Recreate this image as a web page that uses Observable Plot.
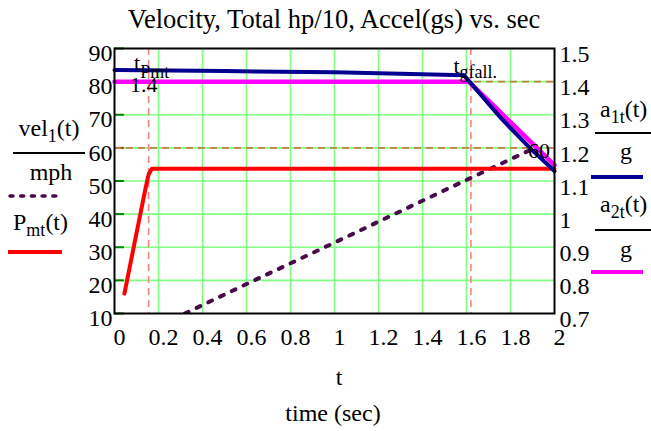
<!DOCTYPE html>
<html>
<head>
<meta charset="utf-8">
<script src="https://cdn.jsdelivr.net/npm/d3@7"></script>
<script src="https://cdn.jsdelivr.net/npm/@observablehq/plot@0.6"></script>
<style>
  html, body { margin: 0; padding: 0; background: #fff; }
  #chart svg { display: block; }
  #chart svg, #chart svg text, #chart svg tspan { font-family: "Liberation Serif", Tinos, "Times New Roman", Times, "DejaVu Serif", serif !important; }
</style>
</head>
<body>
<div id="chart"></div>
<script>
// ---- data ----
const xTicks = [0, 0.2, 0.4, 0.6, 0.8, 1, 1.2, 1.4, 1.6, 1.8, 2];
const xTickLabels = ["0", "0.2", "0.4", "0.6", "0.8", "1", "1.2", "1.4", "1.6", "1.8", "2"];
const leftTicks = [10, 20, 30, 40, 50, 60, 70, 80, 90];
const rightTicks = [0.7, 0.8, 0.9, 1.0, 1.1, 1.2, 1.3, 1.4, 1.5];
const rightTickLabels = ["0.7", "0.8", "0.9", "1", "1.1", "1.2", "1.3", "1.4", "1.5"];

// velocity (mph), left axis
const velT = [0.32, 0.6, 1.0, 1.5, 1.91];
const velV = [10, 18.9, 31.4, 47.2, 60];
// total hp/10, left axis
const pmtT = [0.045, 0.14, 0.155, 0.17, 2.0];
const pmtV = [16, 47.5, 52, 53.7, 53.7];
// a1t/g (g), right axis
const a1T = [0, 0.5, 1.0, 1.3, 1.589, 1.65, 1.7, 1.757, 1.8, 1.9, 2.0];
const a1V = [1.435, 1.432, 1.428, 1.424, 1.419, 1.372, 1.333, 1.290, 1.260, 1.192, 1.130];
// a2t/g (g), right axis
const a2T = [0, 1.61, 1.7, 1.8, 1.9, 2.0];
const a2V = [1.40, 1.40, 1.343, 1.278, 1.213, 1.148];

// markers
const markerT = [0.155, 1.62];      // t_Pmt, t_gfall.
const markerY = [60, 80];           // 60 mph, 1.4 g

// right axis (g) -> left axis units
const toLeft = g => (g - 0.6) * 100;

const vel = velT.map((t, i) => ({t, v: velV[i]}));
const pmt = pmtT.map((t, i) => ({t, v: pmtV[i]}));
const a1 = a1T.map((t, i) => ({t, v: toLeft(a1V[i])}));
const a2 = a2T.map((t, i) => ({t, v: toLeft(a2V[i])}));

const FONT = '"Liberation Serif", Tinos, "Times New Roman", Times, "DejaVu Serif", serif';
const GRID = "#80ff80";
const PURPLE = "#4a0a4a";

const gridX = xTicks.slice(1, -1);
const gridY = leftTicks.slice(1, -1);
const rightMap = new Map(rightTicks.map((g, i) => [Math.round(toLeft(g)), rightTickLabels[i]]));

const plot = Plot.plot({
  width: 651,
  height: 431,
  marginLeft: 114,
  marginRight: 97,
  marginTop: 48,
  marginBottom: 118,
  x: {domain: [0, 2]},
  y: {domain: [10, 90]},
  style: {fontFamily: FONT, background: "white", color: "black", overflow: "visible"},
  marks: [
    Plot.ruleX(gridX, {stroke: GRID, strokeWidth: 1.6}),
    Plot.ruleY(gridY, {stroke: GRID, strokeWidth: 1.6}),
    Plot.ruleY(leftTicks.filter(d => d !== 60 && d !== 80), {x1: 0, x2: 0.045, stroke: "#008000", strokeWidth: 2}),
    Plot.ruleY([60], {x1: 0, x2: 0.045, stroke: "#a04010", strokeWidth: 2}),
    Plot.ruleY(markerY, {stroke: "#c08040", strokeWidth: 1.6, strokeDasharray: "7,5"}),
    Plot.ruleX(markerT, {stroke: "#ff8080", strokeWidth: 1.6, strokeDasharray: "7,5"}),
    Plot.line(vel, {x: "t", y: "v", stroke: PURPLE, strokeWidth: 4, strokeDasharray: "4,9", strokeLinecap: "round", clip: true}),
    Plot.line(pmt, {x: "t", y: "v", stroke: "#ff0000", strokeWidth: 4}),
    Plot.line(a2, {x: "t", y: "v", stroke: "#ff00ff", strokeWidth: 4.5}),
    Plot.line(a1, {x: "t", y: "v", stroke: "#000090", strokeWidth: 4}),
    Plot.frame({stroke: "black", strokeWidth: 2}),
    Plot.axisX(xTicks, {tickSize: 0, tickPadding: 14, dx: 5, fontSize: 24, label: null,
      tickFormat: d => xTickLabels[xTicks.indexOf(d)]}),
    Plot.axisY(leftTicks, {anchor: "left", tickSize: 0, tickPadding: 2, dy: 5, fontSize: 24, label: null}),
    Plot.axisY(rightTicks.map(toLeft), {anchor: "right", tickSize: 0, tickPadding: 5, dy: 6, fontSize: 24, label: null,
      tickFormat: d => rightMap.get(Math.round(d))})
  ]
});

document.getElementById("chart").appendChild(plot);

const svg = d3.select(plot);
const sx = plot.scale("x");
const sy = plot.scale("y");

function rich(x, y, parts, {anchor = "start", size = 24, sub = 18, shift = 6} = {}) {
  const t = svg.append("text")
    .attr("x", x).attr("y", y)
    .attr("text-anchor", anchor)
    .attr("font-family", FONT)
    .attr("font-size", size)
    .attr("fill", "black");
  let cur = 0;
  for (const [s, isSub] of parts) {
    const want = isSub ? shift : 0;
    const sp = t.append("tspan").text(s).attr("dy", want - cur);
    if (isSub) sp.attr("font-size", sub);
    cur = want;
  }
  return t;
}
function seg(x1, x2, y, stroke, w, dash, cap) {
  const l = svg.append("line").attr("x1", x1).attr("x2", x2).attr("y1", y).attr("y2", y)
    .attr("stroke", stroke).attr("stroke-width", w);
  if (dash) l.attr("stroke-dasharray", dash);
  if (cap) l.attr("stroke-linecap", cap);
}

// title & x labels
rich(334, 28, [["Velocity, Total hp/10, Accel(gs) vs. sec"]], {anchor: "middle", size: 26.5});
rich(339, 385, [["t"]], {anchor: "middle"});
rich(333, 421, [["time (sec)"]], {anchor: "middle"});

// left legend
rich(49, 136, [["vel"], ["1", true], ["(t)"]], {anchor: "middle"});
seg(13, 85, 153, "black", 2);
rich(51, 180, [["mph"]], {anchor: "middle"});
seg(10, 60, 196, PURPLE, 3.5, "3,7.7", "round");
rich(13, 230, [["P"], ["mt", true], ["(t)"]]);
seg(8, 62, 252, "#ff0000", 4);

// right legend
rich(600, 117, [["a"], ["1t", true], ["(t)"]]);
seg(595, 651, 133, "black", 2);
rich(626, 159, [["g"]], {anchor: "middle"});
seg(591, 643, 177, "#000090", 4);
rich(600, 212, [["a"], ["2t", true], ["(t)"]]);
seg(595, 651, 230, "black", 2);
rich(626, 257, [["g"]], {anchor: "middle"});
seg(591, 643, 272, "#ff00ff", 4);

// marker labels
rich(sx.apply(markerT[0]) - 14, 70, [["t"], ["Pmt", true]], {size: 22, sub: 18, shift: 8});
rich(sx.apply(markerT[1]) - 17, 73, [["t"], ["gfall.", true]], {size: 22, sub: 18, shift: 5});
rich(sx.apply(0) + 16, sy.apply(markerY[1]) + 11, [["1.4"]], {size: 22});
rich(sx.apply(2) - 26, sy.apply(markerY[0]) + 11, [["60"]], {size: 22});
</script>
</body>
</html>
